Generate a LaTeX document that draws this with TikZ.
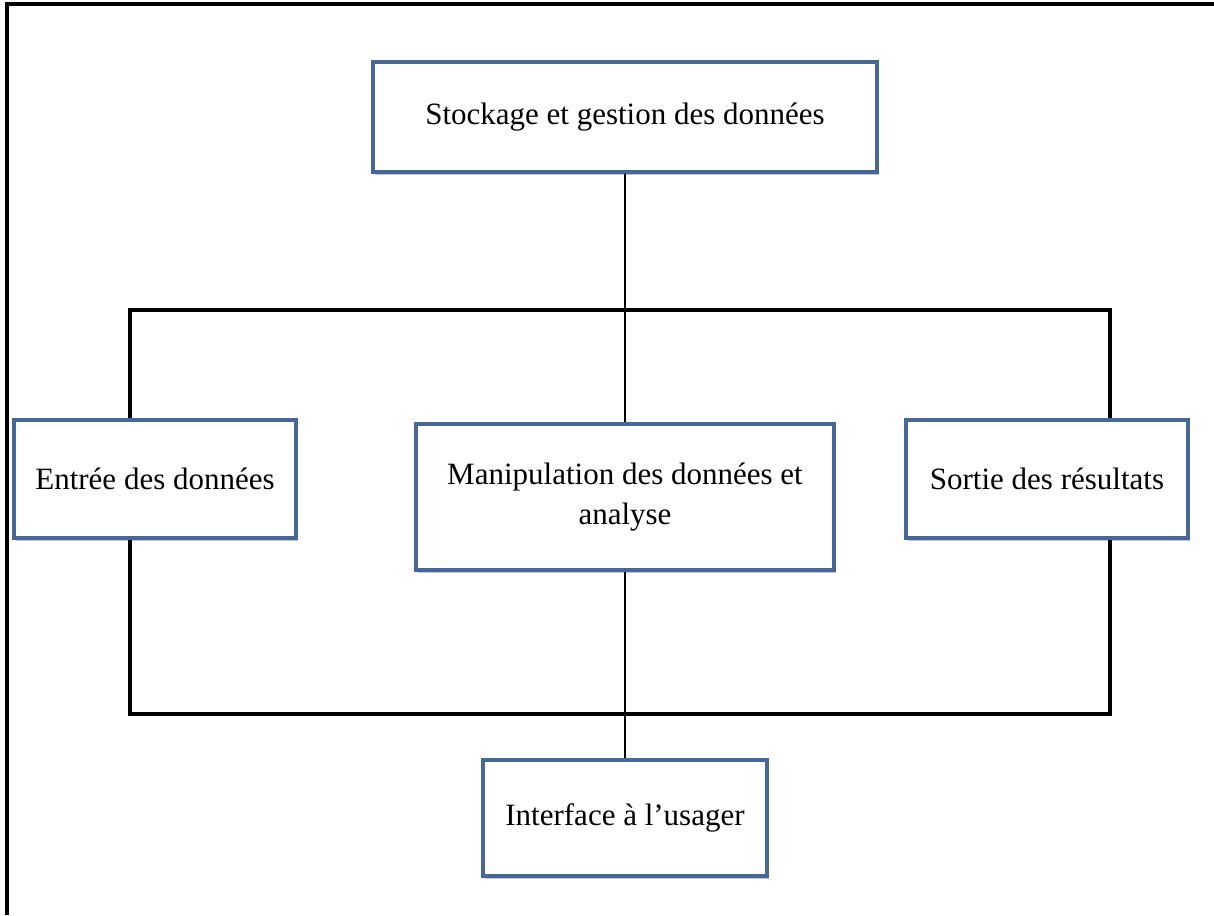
\documentclass[tikz,border=0pt]{standalone}
\usepackage{fontspec}
\setmainfont{Liberation Serif}
\usetikzlibrary{shadows}

\definecolor{boxblue}{RGB}{69,104,153}

\tikzset{
    bloc/.style={draw=boxblue, line width=1.6pt, fill=white, align=center,
        font=\fontsize{15.5}{20}\selectfont,
        drop shadow={shadow xshift=1.2pt, shadow yshift=-1.4pt, opacity=0.45}},
    lien/.style={line width=0.7pt},
    bus/.style={line width=1.6pt}
}

\begin{document}
\begin{tikzpicture}[x=0.5pt, y=-0.5pt]
    \useasboundingbox (0,0) rectangle (1214,915);

    % Frame (top and left edges only)
    \draw[line width=2pt] (7,915) -- (7,4) -- (1214,4);

    % Boxes
    \node[bloc, minimum width=252pt, minimum height=55pt] (stock) at (625,117) {Stockage et gestion des données};
    \node[bloc, minimum width=141pt, minimum height=59pt] (entree) at (155,479) {Entrée des données};
    \node[bloc, minimum width=209pt, minimum height=73pt] (manip) at (625,497) {Manipulation des données et\\analyse};
    \node[bloc, minimum width=141pt, minimum height=59pt] (sortie) at (1047,479) {Sortie des résultats};
    \node[bloc, minimum width=142pt, minimum height=58pt] (usager) at (625,818) {Interface à l’usager};

    % Bus corners
    \coordinate (hautG) at (130,310);
    \coordinate (hautD) at (1110,310);
    \coordinate (basG) at (130,714);
    \coordinate (basD) at (1110,714);

    % Connectors
    \draw[lien] (stock.south) -- (manip.north);
    \draw[lien] (manip.south) -- (usager.north);
    \draw[bus] (hautG |- entree.north) -- (hautG) -- (hautD) -- (hautD |- sortie.north);
    \draw[bus] (basG |- entree.south) -- (basG) -- (basD) -- (basD |- sortie.south);
\end{tikzpicture}
\end{document}
